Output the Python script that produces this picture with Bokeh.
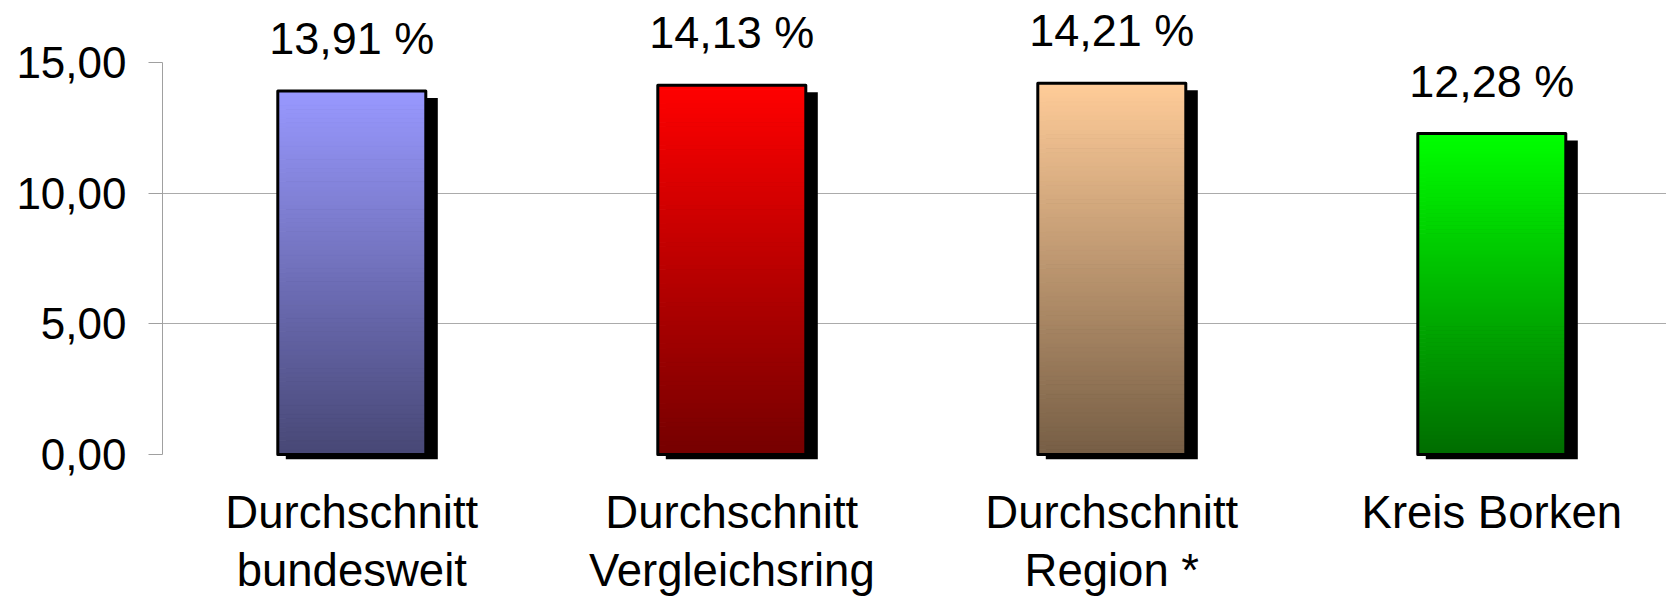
import numpy as np
from bokeh.plotting import figure
from bokeh.models import ColumnDataSource, FixedTicker, Range1d
from bokeh.core.properties import value
from bokeh.embed import file_html
from bokeh.resources import INLINE

# ---- data ----
categories = ["Durchschnitt\nbundesweit", "Durchschnitt\nVergleichsring",
              "Durchschnitt\nRegion *", "Kreis Borken"]
values = [13.91, 14.13, 14.21, 12.28]
top_colors = [(0x99, 0x99, 0xFF), (0xFF, 0x00, 0x00), (0xFF, 0xCC, 0x99), (0x00, 0xFF, 0x00)]
bottom_colors = [(0x47, 0x47, 0x75), (0x75, 0x00, 0x00), (0x76, 0x5E, 0x45), (0x00, 0x6C, 0x00)]
y_ticks = [0, 5, 10, 15]
y_tick_labels = ["0,00", "5,00", "10,00", "15,00"]
grid_ticks = [5, 10]

FONT = "Liberation Sans"
PX_X = 380.0      # pixels per category unit
PX_Y = 26.133     # pixels per y unit
W = 148 / PX_X    # bar width

FRAME_LEFT = 162
ZERO_Y = 454
FIG_H = 598
CENTER0 = 351.3
TXT_SHIFT = 15.5  # px correction for text baseline placement

xs = np.arange(len(categories), dtype=float)

p = figure(width=1666, height=FIG_H, output_backend="svg", toolbar_location=None,
           x_axis_location=None,
           x_range=Range1d(-(CENTER0 - FRAME_LEFT) / PX_X, (1666 - CENTER0) / PX_X),
           y_range=Range1d(-(FIG_H - ZERO_Y) / PX_Y, ZERO_Y / PX_Y),
           min_border_left=FRAME_LEFT, min_border_right=0, min_border_top=0, min_border_bottom=0)
p.outline_line_color = None
p.background_fill_color = "white"
p.border_fill_color = "white"
p.xgrid.visible = False

# y axis
ax = p.yaxis[0]
ax.ticker = FixedTicker(ticks=y_ticks, minor_ticks=[])
ax.major_label_overrides = {t: l for t, l in zip(y_ticks, y_tick_labels)}
ax.bounds = (y_ticks[0], y_ticks[-1])
ax.axis_line_color = "#a0a0a0"
ax.axis_line_width = 1
ax.major_tick_line_color = "#a0a0a0"
ax.major_tick_out = 14
ax.major_tick_in = 0
ax.minor_tick_line_color = None
ax.major_label_standoff = 22
ax.major_label_text_font = FONT
ax.major_label_text_font_size = "44px"
ax.major_label_text_color = "black"

p.ygrid.ticker = FixedTicker(ticks=grid_ticks, minor_ticks=[])
p.ygrid.grid_line_color = "#ababab"
p.ygrid.grid_line_width = 1

# shadows
p.quad(left=xs - W / 2 + 8 / PX_X, right=xs + W / 2 + 12 / PX_X,
       top=np.array(values) - 7 / PX_Y, bottom=-4.7 / PX_Y,
       fill_color="black", line_color=None)

# gradient bars
N = 80
seg = dict(x=[], bottom=[], top=[], color=[])
for i, v in enumerate(values):
    ct = np.array(top_colors[i], float)
    cb = np.array(bottom_colors[i], float)
    for k in range(N):
        f = (k + 0.5) / N  # 0 at bottom, 1 at top
        c = cb + (ct - cb) * f
        seg["x"].append(xs[i])
        seg["bottom"].append(v * k / N)
        seg["top"].append(v * (k + 1) / N)
        seg["color"].append("#%02x%02x%02x" % tuple(int(round(a)) for a in c))
src = ColumnDataSource(seg)
p.vbar(x="x", bottom="bottom", top="top", width=W, fill_color="color",
       line_color="color", line_width=1, source=src)

# outlines
p.vbar(x=xs, bottom=0, top=values, width=W, fill_color=None,
       line_color="black", line_width=3, line_join="round")

# value labels
labels = [f"{v:.2f}".replace(".", ",") + " %" for v in values]
p.text(x=xs, y=np.array(values) + (37 + TXT_SHIFT) / PX_Y, text=labels,
       text_font=value(FONT), text_font_size="45px", text_align="center",
       text_baseline="alphabetic", text_color="black")

# category labels
line1 = [c.split("\n")[0] for c in categories]
line2 = [c.split("\n")[1] if "\n" in c else "" for c in categories]
p.text(x=xs, y=(-73 + TXT_SHIFT) / PX_Y, text=line1, text_font=value(FONT),
       text_font_size="45.5px", text_align="center", text_baseline="alphabetic",
       text_color="black")
p.text(x=xs, y=(-131.7 + TXT_SHIFT) / PX_Y, text=line2, text_font=value(FONT),
       text_font_size="45.5px", text_align="center", text_baseline="alphabetic",
       text_color="black")

open("out.html", "w").write(file_html(p, INLINE))
